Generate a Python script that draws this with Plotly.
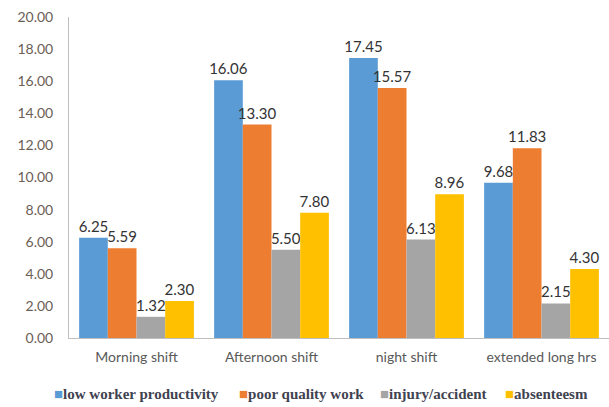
import plotly.graph_objects as go

categories = ["Morning shift", "Afternoon shift", "night shift", "extended long hrs"]
series_names = ["low worker productivity", "poor quality work", "injury/accident", "absenteesm"]
low_worker_productivity = [6.25, 16.06, 17.45, 9.68]
poor_quality_work = [5.59, 13.30, 15.57, 11.83]
injury_accident = [1.32, 5.50, 6.13, 2.15]
absenteesm = [2.30, 7.80, 8.96, 4.30]
colors = ["#5b9bd5", "#ed7d31", "#a5a5a5", "#ffc000"]
y_ticks = [0, 2, 4, 6, 8, 10, 12, 14, 16, 18, 20]

series_values = [low_worker_productivity, poor_quality_work, injury_accident, absenteesm]

fig = go.Figure()
for name, vals, col in zip(series_names, series_values, colors):
    fig.add_trace(go.Bar(
        x=categories, y=vals, name=name, marker_color=col,
        marker_line_width=0,
        text=[f"{v:.2f}" for v in vals], textposition="outside",
        constraintext="none",
        textfont=dict(family="Lato", size=15, color="#333333"),
        cliponaxis=False, showlegend=False,
    ))

fig.update_layout(
    width=609, height=407,
    margin=dict(l=69, r=0, t=17, b=69),
    paper_bgcolor="white", plot_bgcolor="white",
    barmode="group", bargap=0.15, bargroupgap=0,
    xaxis=dict(
        showline=True, linecolor="#bfbfbf", linewidth=1,
        showgrid=False, ticks="", ticklabelstandoff=6,
        tickfont=dict(family="Lato", size=14, color="#595959"),
    ),
    yaxis=dict(
        range=[0, 20], tickvals=y_ticks, tickformat=".2f",
        showline=True, linecolor="#bfbfbf", linewidth=1,
        showgrid=False, zeroline=False, ticks="", ticklabelstandoff=12,
        tickfont=dict(family="Lato", size=14, color="#6b5e55"),
    ),
)

# legend drawn as text annotations (compact, like the reference)
legend_x = [52, 237, 378, 503]
for xpos, name, col in zip(legend_x, series_names, colors):
    fig.add_annotation(
        x=(xpos - 69) / (609 - 69), y=(407 - 69 - 394) / (407 - 17 - 69),
        xref="paper", yref="paper",
        text=f"<span style='color:{col}'>■</span>{name}",
        showarrow=False, xanchor="left", yanchor="middle",
        font=dict(family="Liberation Serif", size=15,
                  color="#3f4250", weight="bold"),
    )

fig.write_html("out.html")
